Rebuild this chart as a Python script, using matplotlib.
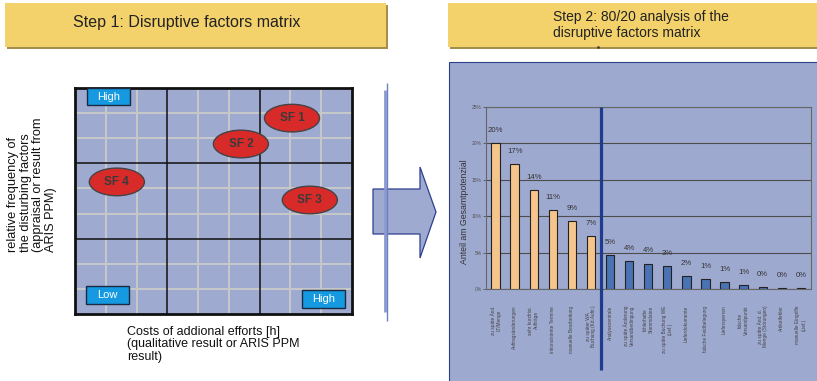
import matplotlib
matplotlib.use('Agg')
import matplotlib.pyplot as plt
from matplotlib.patches import Rectangle, Ellipse, Polygon

plt.rcParams['font.family'] = ['Liberation Sans', 'DejaVu Sans']

# ---------------- data ----------------
# Step 1: disruptive factors matrix (cost on x, frequency on y, 0..9 grid units)
sf_names = ['SF 1', 'SF 2', 'SF 3', 'SF 4']
sf_cost = [7.05, 5.39, 7.63, 1.36]
sf_freq = [7.80, 6.77, 4.54, 5.26]

# Step 2: 80/20 analysis
bar_labels = [
    'zu späte Änd.\nLT/Menge',
    'Auftragsänderungen',
    'sehr kurzfrist.\nAufträge',
    'inkonsistente Termine',
    'manuelle Bearbeitung',
    'zu später WA\nBuchung (Kd.Auftr.)',
    'Analysezentrale',
    'zu späte Änderung\nVersandbedingung',
    'fehlerhafte\nStammdaten',
    'zu späte Buchung WE\n(Lief.)',
    'Lieferdokumente',
    'falsche Feldbelegung',
    'Liefersperren',
    'falsche\nVersandpunkt',
    'zu späte Änd. d.\nMenge (Störungen)',
    'Artikelfehler',
    'manuelle Eingriffe\n(Lief.)',
]
bar_values = [20.0, 17.2, 13.6, 10.9, 9.4, 7.3, 4.7, 3.9, 3.5, 3.2,
              1.8, 1.4, 0.9, 0.6, 0.3, 0.1, 0.1]
bar_value_text = ['20%', '17%', '14%', '11%', '9%', '7%', '5%', '4%', '4%',
                  '3%', '2%', '1%', '1%', '1%', '0%', '0%', '0%']
n_vital = 6
y_ticks = [0, 5, 10, 15, 20, 25]
y_tick_labels = ['0%', '5%', '10%', '15%', '20%', '25%']

# ---------------- figure ----------------
W, H = 817, 381
fig = plt.figure(figsize=(W / 100, H / 100), dpi=100)


def frac(x0, y0, x1, y1):
    return [x0 / W, 1 - y1 / H, (x1 - x0) / W, (y1 - y0) / H]


PANEL = '#9EA9D0'
YELLOW = '#F3D26B'

# background overlay (pixel coordinates)
bg = fig.add_axes([0, 0, 1, 1], zorder=0)
bg.set_xlim(0, W)
bg.set_ylim(H, 0)
bg.axis('off')

# title boxes
for (x0, x1) in [(5, 386), (448, 830)]:
    bg.add_patch(Rectangle((x0 + 2, 5), x1 - x0, 44, facecolor='#A38E4C', edgecolor='none'))
    bg.add_patch(Rectangle((x0, 3), x1 - x0, 44, facecolor=YELLOW, edgecolor='none'))
bg.text(187, 23, 'Step 1: Disruptive factors matrix', ha='center', va='center',
        fontsize=11.5, color='#222222')
bg.text(553, 25, 'Step 2: 80/20 analysis of the\ndisruptive factors matrix', ha='left',
        va='center', fontsize=10, color='#222222', linespacing=1.15)
bg.plot([598], [47], marker='s', ms=0.8, color='#333333')

# right panel
bg.add_patch(Rectangle((449, 62), 380, 330, facecolor=PANEL, edgecolor='#2D3E8A', lw=0.8))

# vertical separator lines and arrow
bg.plot([384.7, 384.7], [90, 312], color='#8C9BD0', lw=2.0, solid_capstyle='butt')
bg.plot([386.7, 386.7], [83, 321], color='#6F80C0', lw=1.0, solid_capstyle='butt')
arrow = Polygon([(373, 189), (420, 189), (420, 167), (436, 212), (420, 258), (420, 234), (373, 234)],
                closed=True, facecolor='#9FAAD1', edgecolor='#2F3F8F', lw=0.9)
bg.add_patch(arrow)

# axis texts for matrix
bg.text(32, 185, 'relative frequency of\nthe disturbing factors\n(appraisal or result from\nARIS PPM)',
        rotation=90, ha='center', va='center', multialignment='left', fontsize=9.2,
        color='#111111', linespacing=1.05)
bg.text(127, 326, 'Costs of addional efforts [h]\n(qualitative result or ARIS PPM\nresult)',
        ha='left', va='top', fontsize=9, color='#111111', linespacing=1.05)

# ---------------- matrix ----------------
axm = fig.add_axes(frac(75, 88, 352, 314), zorder=1)
axm.set_xlim(0, 9)
axm.set_ylim(0, 9)
axm.set_facecolor('#9FAAD1')
axm.set_xticks([])
axm.set_yticks([])
for k in range(1, 9):
    if k % 3:
        axm.axvline(k, color='#C8C8C8', lw=1.4, zorder=1)
        axm.axhline(k, color='#C8C8C8', lw=1.4, zorder=1)
for k in (3, 6):
    axm.axvline(k, color='#111111', lw=1.1, zorder=2)
    axm.axhline(k, color='#111111', lw=1.1, zorder=2)
for s in axm.spines.values():
    s.set_linewidth(2.0)
    s.set_color('#111111')
for name, cx, cy in zip(sf_names, sf_cost, sf_freq):
    axm.add_patch(Ellipse((cx, cy), 1.79, 1.1, facecolor='#D92A2A', edgecolor='#444444',
                          lw=1.0, zorder=4))
    axm.text(cx, cy, name, ha='center', va='center', fontsize=8.5, fontweight='bold',
             color='#3A3A3A', zorder=5)

# ---------------- bar chart ----------------
axb = fig.add_axes(frac(486, 107, 811, 289), zorder=2)
axb.set_facecolor('none')
xs = list(range(len(bar_values)))
colors = ['#F5C58C' if i < n_vital else '#4A73B4' for i in xs]
axb.bar(xs, bar_values, width=0.44, color=colors, edgecolor='#222222', lw=0.8, zorder=3)
for x, v, t in zip(xs, bar_values, bar_value_text):
    axb.annotate(t, (x, v), xytext=(0, 6.5), textcoords='offset points', ha='center',
                 va='bottom', fontsize=5.6, color='#333333')
axb.set_xlim(-0.5, 16.53)
axb.set_ylim(0, 25)
axb.set_yticks(y_ticks)
axb.set_yticklabels(y_tick_labels, fontsize=3.6, color='#555555')
axb.set_xticks(xs)
axb.set_xticklabels(bar_labels, rotation=90, fontsize=3.4, color='#444444', va='top',
                    ha='center', multialignment='center')
axb.tick_params(axis='x', length=0, pad=12)
axb.tick_params(axis='y', length=2.2, width=0.6, color='#555555', pad=1.0)
axb.yaxis.grid(True, color='#4D4D4D', lw=0.8)
axb.set_axisbelow(True)
for side in ('left', 'bottom', 'right', 'top'):
    axb.spines[side].set_color('#666666')
    axb.spines[side].set_linewidth(0.8)
axb.plot([5.5, 5.5], [1.0, -0.445], transform=axb.get_xaxis_transform(), color='#1E3C8C',
         lw=2.3, clip_on=False, zorder=5, solid_capstyle='butt')

# overlay for labels on top
top = fig.add_axes([0, 0, 1, 1], zorder=5)
top.set_xlim(0, W)
top.set_ylim(H, 0)
top.axis('off')
top.patch.set_alpha(0)
for (x0, y0, x1, y1, t) in [(87, 88, 130, 105, 'High'), (86, 286, 129, 304, 'Low'),
                            (302, 290, 345, 308, 'High')]:
    top.add_patch(Rectangle((x0, y0), x1 - x0, y1 - y0, facecolor='#1599E0',
                            edgecolor='#1A2A40', lw=1.0))
    top.text((x0 + x1) / 2, (y0 + y1) / 2 + 0.5, t, ha='center', va='center', fontsize=8,
             color='white')
top.text(465, 212, 'Anteil am Gesamtpotenzial', rotation=90, ha='center', va='center',
         fontsize=6.3, color='#333333')

fig.savefig('out.png', dpi=100)
